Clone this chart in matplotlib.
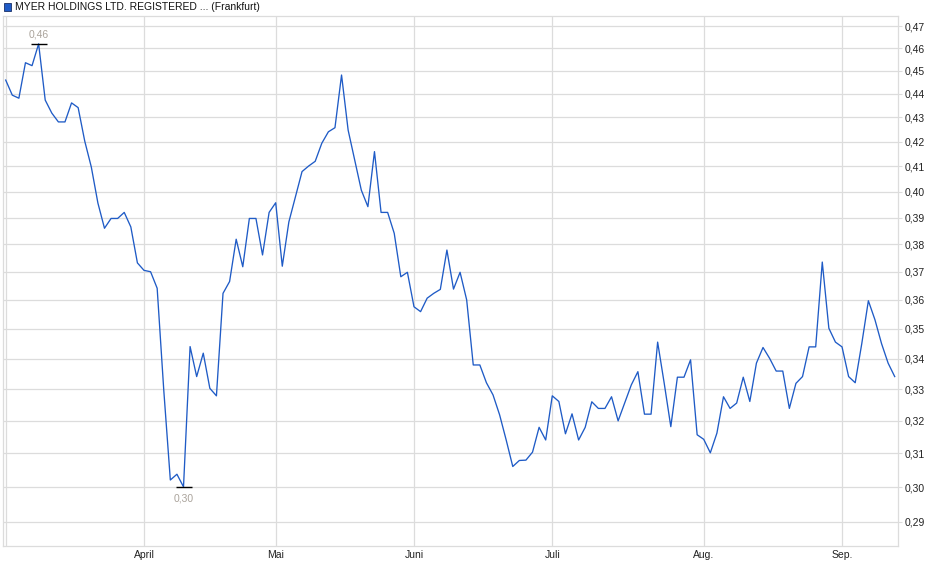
import matplotlib
matplotlib.use("Agg")
import matplotlib.pyplot as plt
from matplotlib.ticker import FixedLocator, NullLocator, FuncFormatter
from matplotlib.patches import Rectangle

# ---- data (trading-day index -> price EUR) ----
prices = [
    0.4459, 0.4394, 0.4381, 0.4535, 0.4522, 0.4619, 0.4373, 0.4318, 0.4281, 0.4281,
    0.4361, 0.4341, 0.4202, 0.4097, 0.3956, 0.3860, 0.3897, 0.3897, 0.3920, 0.3865,
    0.3732, 0.3705, 0.3700, 0.3641, 0.3298, 0.3021, 0.3038, 0.3001, 0.3440, 0.3341,
    0.3418, 0.3303, 0.3279, 0.3623, 0.3665, 0.3819, 0.3718, 0.3897, 0.3897, 0.3761,
    0.3920, 0.3957, 0.3720, 0.3884, 0.3980, 0.4079, 0.4101, 0.4120, 0.4193, 0.4240,
    0.4257, 0.4481, 0.4247, 0.4125, 0.4006, 0.3942, 0.4159, 0.3920, 0.3920, 0.3841,
    0.3682, 0.3698, 0.3576, 0.3559, 0.3606, 0.3623, 0.3637, 0.3779, 0.3638, 0.3698,
    0.3600, 0.3379, 0.3379, 0.3321, 0.3282, 0.3219, 0.3141, 0.3061, 0.3079, 0.3080,
    0.3104, 0.3180, 0.3141, 0.3279, 0.3261, 0.3160, 0.3222, 0.3141, 0.3180, 0.3260,
    0.3239, 0.3239, 0.3276, 0.3200, 0.3256, 0.3314, 0.3357, 0.3221, 0.3221, 0.3455,
    0.3319, 0.3182, 0.3339, 0.3339, 0.3396, 0.3157, 0.3143, 0.3102, 0.3162, 0.3276,
    0.3239, 0.3256, 0.3339, 0.3261, 0.3385, 0.3437, 0.3401, 0.3359, 0.3359, 0.3239,
    0.3319, 0.3341, 0.3439, 0.3439, 0.3735, 0.3502, 0.3455, 0.3439, 0.3341, 0.3321,
    0.3450, 0.3597, 0.3531, 0.3450, 0.3385, 0.3341,
]
month_index = [0, 21, 41, 62, 83, 106, 127]
month_labels = ["", "April", "Mai", "Juni", "Juli", "Aug.", "Sep."]
y_ticks = [0.29, 0.30, 0.31, 0.32, 0.33, 0.34, 0.35, 0.36, 0.37, 0.38,
           0.39, 0.40, 0.41, 0.42, 0.43, 0.44, 0.45, 0.46, 0.47]
title = "MYER HOLDINGS LTD. REGISTERED ... (Frankfurt)"

plt.rcParams['font.family'] = ['Liberation Sans', 'DejaVu Sans']

W, H = 940, 579
fig = plt.figure(figsize=(W / 100, H / 100), dpi=100)
fig.patch.set_facecolor("white")

left, right, top, bottom = 2.7, 898, 16, 546
ax = fig.add_axes([left / W, (H - bottom) / H, (right - left) / W, (bottom - top) / H])

grid_c = "#dcdcdc"
line_c = "#1f5bc6"

x = list(range(len(prices)))
ax.plot(x, prices, color=line_c, lw=0.95, zorder=3)

ax.set_yscale("log")
ax.set_xlim(-0.456, 135.5)
ax.set_ylim(0.2833, 0.4746)

ax.yaxis.set_major_locator(FixedLocator(y_ticks))
ax.yaxis.set_minor_locator(NullLocator())
ax.yaxis.set_major_formatter(FuncFormatter(lambda v, p: f"{v:.2f}".replace(".", ",")))
ax.yaxis.tick_right()
ax.tick_params(axis="y", which="major", length=3, width=0.8, color=grid_c,
               labelsize=7.5, labelcolor="#222222", pad=2)

ax.xaxis.set_major_locator(FixedLocator(month_index))
ax.xaxis.set_minor_locator(NullLocator())
ax.set_xticklabels(month_labels)
ax.tick_params(axis="x", which="major", length=0, labelsize=7.5,
               labelcolor="#222222", pad=3)

ax.grid(True, which="major", color=grid_c, lw=0.9, zorder=0)
for s in ax.spines.values():
    s.set_color(grid_c)
    s.set_linewidth(0.9)

# max / min annotations
imax = max(range(len(prices)), key=lambda i: prices[i])
imin = min(range(len(prices)), key=lambda i: prices[i])
lab_c = "#aaa39b"
ax.plot([imax], [prices[imax]], marker="_", ms=12, mew=1.0, color="black", zorder=4)
ax.annotate(f"{prices[imax]:.2f}".replace(".", ","), (imax, prices[imax]),
            xytext=(0, 3), textcoords="offset points", ha="center", va="bottom",
            fontsize=7.5, color=lab_c)
ax.plot([imin], [prices[imin]], marker="_", ms=12, mew=1.0, color="black", zorder=4)
ax.annotate(f"{prices[imin]:.2f}".replace(".", ","), (imin, prices[imin]),
            xytext=(0, -4.5), textcoords="offset points", ha="center", va="top",
            fontsize=7.5, color=lab_c)

# legend / title
fig.patches.append(Rectangle((3.5 / W, (H - 11) / H), 7.5 / W, 7.5 / H,
                             transform=fig.transFigure, facecolor=line_c,
                             edgecolor="#1a2f66", lw=0.6))
fig.text(15 / W, (H - 7.5) / H, title, fontsize=7.5, color="#111111",
         ha="left", va="center")

fig.savefig("out.png", dpi=100, facecolor="white")
